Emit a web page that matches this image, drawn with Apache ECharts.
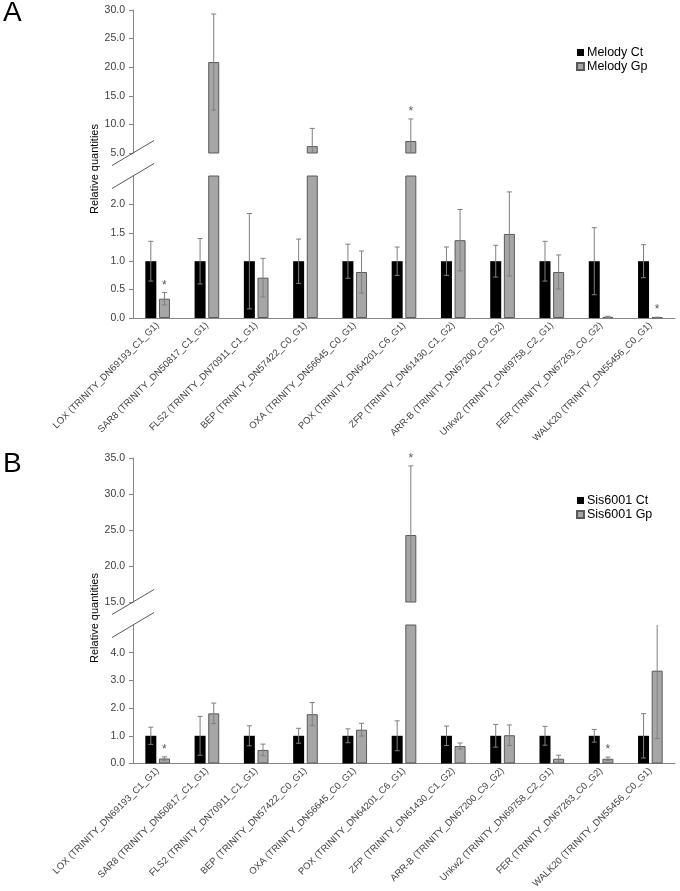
<!DOCTYPE html>
<html><head><meta charset="utf-8">
<script src="https://cdn.jsdelivr.net/npm/echarts@6/dist/echarts.min.js"></script>
<style>html,body{margin:0;padding:0;background:#fff}#c{width:680px;height:891px}</style>
</head><body><div id="c"></div>
<script>
const categories = [
  "LOX (TRINITY_DN69193_C1_G1)", "SAR8 (TRINITY_DN50817_C1_G1)", "FLS2 (TRINITY_DN70911_C1_G1)",
  "BEP (TRINITY_DN57422_C0_G1)", "OXA (TRINITY_DN56645_C0_G1)", "POX (TRINITY_DN64201_C6_G1)",
  "ZFP (TRINITY_DN61430_C1_G2)", "ARR-B (TRINITY_DN67200_C9_G2)", "Unkw2 (TRINITY_DN69758_C2_G1)",
  "FER (TRINITY_DN67263_C0_G2)", "WALK20 (TRINITY_DN55456_C0_G1)"
];
// Panel A (Melody)
const melodyCt    = [1, 1, 1, 1, 1, 1, 1, 1, 1, 1, 1];
const melodyCtErr = [0.35, 0.40, 0.84, 0.39, 0.30, 0.25, 0.25, 0.28, 0.35, 0.59, 0.29];
const melodyGp    = [0.34, 20.9, 0.71, 6.2, 0.81, 7.1, 1.37, 1.48, 0.81, 0.02, 0.01];
const melodyGpErr = [0.11, 8.4, 0.34, 3.1, 0.37, 3.85, 0.54, 0.74, 0.30, 0.01, 0.005];
const melodySig   = [1, 0, 0, 0, 0, 1, 0, 0, 0, 0, 1];
// Panel B (Sis6001)
const sisCt    = [1, 1, 1, 1, 1, 1, 1, 1, 1, 1, 1];
const sisCtErr = [0.31, 0.70, 0.36, 0.27, 0.25, 0.54, 0.35, 0.41, 0.34, 0.23, 0.80];
const sisGp    = [0.18, 1.81, 0.49, 1.78, 1.22, 24.3, 0.63, 1.02, 0.17, 0.17, 3.35];
const sisGpErr = [0.06, 0.37, 0.21, 0.42, 0.23, 9.6, 0.11, 0.37, 0.13, 0.06, 2.45];
const sisSig   = [1, 0, 0, 0, 0, 1, 0, 0, 0, 1, 0];
// axis ranges (broken axes)
const axisA_upper = {min: 5, max: 30, interval: 5};
const axisA_lower = {min: 0, max: 2.5, interval: 0.5};
const axisB_upper = {min: 15, max: 35, interval: 5};
const axisB_lower = {min: 0, max: 5, interval: 1};

const grids = [
  {left: 133, top: 10, width: 542, height: 143},
  {left: 133, top: 176, width: 542, height: 142},
  {left: 133, top: 458, width: 542, height: 144},
  {left: 133, top: 625, width: 542, height: 142}
];
const LABEL = '#404040', AXIS = '#868686', ERR = '#7f7f7f';
const FONT = 'Liberation Sans, Arial, sans-serif';

function yAxis(idx, r, hideMax) {
  return {
    type: 'value', gridIndex: idx, min: r.min, max: r.max, interval: r.interval,
    axisLine: {show: true, lineStyle: {color: AXIS, width: 1}},
    axisTick: {show: true, length: 4, lineStyle: {color: AXIS}},
    splitLine: {show: false},
    axisLabel: {fontSize: 10.5, color: LABEL, fontFamily: FONT, margin: 8,
      showMaxLabel: !hideMax, formatter: v => v.toFixed(1)}
  };
}
function xAxis(idx, show) {
  return {
    type: 'category', gridIndex: idx, data: categories, show: show,
    axisLine: {show: true, onZero: false, lineStyle: {color: AXIS, width: 1}},
    axisTick: {show: false},
    axisLabel: {rotate: 45, interval: 0, fontSize: 9.5, color: LABEL, fontFamily: FONT, margin: 6}
  };
}
const ctStyle = {color: '#000000'};
const gpStyle = {color: '#a6a6a6', borderColor: '#595959', borderWidth: 1};

function bars(name, idx, vals, style, r, upper) {
  return {
    name: name, type: 'bar', xAxisIndex: idx, yAxisIndex: idx,
    barCategoryGap: '50%', barGap: '24%', itemStyle: style, clip: true,
    data: vals.map(v => (upper && v <= r.min) ? '-' : v),
    emphasis: {disabled: true}, silent: true
  };
}
function errs(idx, vals, errs, sig, side) {
  return {
    type: 'custom', xAxisIndex: idx, yAxisIndex: idx, silent: true, z: 5,
    data: vals.map((v, i) => [i, v, errs[i], sig ? sig[i] : 0]),
    encode: {x: 0, y: 1},
    renderItem: function (params, api) {
      const i = api.value(0), v = api.value(1), e = api.value(2), s = api.value(3);
      const bw = api.size([1, 0])[0];
      const barW = bw * 0.5 / 2.24;
      const cx = api.coord([i, v])[0] + side * barW * 1.24 / 2;
      const cs = params.coordSys;
      const top = cs.y, bot = cs.y + cs.height;
      const yHi = api.coord([i, v + e])[1];
      const yLo = api.coord([i, Math.max(v - e, 0)])[1];
      if (yLo < top || yHi > bot) return null;
      const yHiC = Math.max(yHi, top), yLoC = Math.min(yLo, bot);
      const children = [];
      const ls = {stroke: ERR, lineWidth: 1};
      children.push({type: 'line', shape: {x1: cx, y1: yHiC, x2: cx, y2: yLoC}, style: ls});
      if (yHi >= top) children.push({type: 'line', shape: {x1: cx - 2.5, y1: yHi, x2: cx + 2.5, y2: yHi}, style: ls});
      if (yLo <= bot) children.push({type: 'line', shape: {x1: cx - 2.5, y1: yLo, x2: cx + 2.5, y2: yLo}, style: ls});
      if (s && yHi >= top) {
        children.push({type: 'text', style: {text: '*', x: cx, y: yHi - 1, align: 'center',
          verticalAlign: 'bottom', fontSize: 12, fill: '#595959', fontFamily: FONT}});
      }
      return {type: 'group', children: children};
    }
  };
}

function breakMarks(gu, gl) {
  const x = gu.left, y1 = gu.top + gu.height, y2 = gl.top;
  const st = {stroke: '#595959', lineWidth: 1};
  return [
    {type: 'line', shape: {x1: x - 21, y1: y1 + 12.5, x2: x + 21, y2: y1 - 12.5}, style: st, z: 10},
    {type: 'line', shape: {x1: x - 21, y1: y2 + 12.5, x2: x + 21, y2: y2 - 12.5}, style: st, z: 10}
  ];
}

const legendText = {fontSize: 12.5, color: '#000', fontFamily: FONT, padding: [0, 0, 0, -2]};
const chart = echarts.init(document.getElementById('c'), null, {renderer: 'canvas'});
chart.setOption({
  animation: false,
  backgroundColor: '#fff',
  grid: grids,
  xAxis: [xAxis(0, false), xAxis(1, true), xAxis(2, false), xAxis(3, true)],
  yAxis: [yAxis(0, axisA_upper, false), yAxis(1, axisA_lower, true),
          yAxis(2, axisB_upper, false), yAxis(3, axisB_lower, true)],
  legend: [
    {data: ['Melody Ct', 'Melody Gp'], orient: 'vertical', left: 571, top: 41, icon: 'rect',
     itemWidth: 7, itemHeight: 7, itemGap: 1, selectedMode: false, textStyle: legendText},
    {data: ['Sis6001 Ct', 'Sis6001 Gp'], orient: 'vertical', left: 571, top: 489, icon: 'rect',
     itemWidth: 7, itemHeight: 7, itemGap: 1, selectedMode: false, textStyle: legendText}
  ],
  series: [
    bars('Melody Ct', 0, melodyCt, ctStyle, axisA_upper, true),
    bars('Melody Gp', 0, melodyGp, gpStyle, axisA_upper, true),
    bars('Melody Ct', 1, melodyCt, ctStyle, axisA_lower, false),
    bars('Melody Gp', 1, melodyGp, gpStyle, axisA_lower, false),
    errs(0, melodyGp, melodyGpErr, melodySig, 1),
    errs(1, melodyCt, melodyCtErr, null, -1),
    errs(1, melodyGp, melodyGpErr, melodySig, 1),
    bars('Sis6001 Ct', 2, sisCt, ctStyle, axisB_upper, true),
    bars('Sis6001 Gp', 2, sisGp, gpStyle, axisB_upper, true),
    bars('Sis6001 Ct', 3, sisCt, ctStyle, axisB_lower, false),
    bars('Sis6001 Gp', 3, sisGp, gpStyle, axisB_lower, false),
    errs(2, sisGp, sisGpErr, sisSig, 1),
    errs(3, sisCt, sisCtErr, null, -1),
    errs(3, sisGp, sisGpErr, sisSig, 1)
  ],
  graphic: [
    {type: 'text', left: 3, top: -1, style: {text: 'A', fontSize: 28, fill: '#000', fontFamily: FONT}},
    {type: 'text', left: 3, top: 450, style: {text: 'B', fontSize: 28, fill: '#000', fontFamily: FONT}},
    {type: 'text', x: 95, y: 169, rotation: Math.PI / 2,
     style: {text: 'Relative quantities', fontSize: 11, fill: '#000', fontFamily: FONT, align: 'center', verticalAlign: 'middle'}},
    {type: 'text', x: 95, y: 618, rotation: Math.PI / 2,
     style: {text: 'Relative quantities', fontSize: 11, fill: '#000', fontFamily: FONT, align: 'center', verticalAlign: 'middle'}}
  ].concat(breakMarks(grids[0], grids[1]), breakMarks(grids[2], grids[3]))
});
</script>
</body></html>
